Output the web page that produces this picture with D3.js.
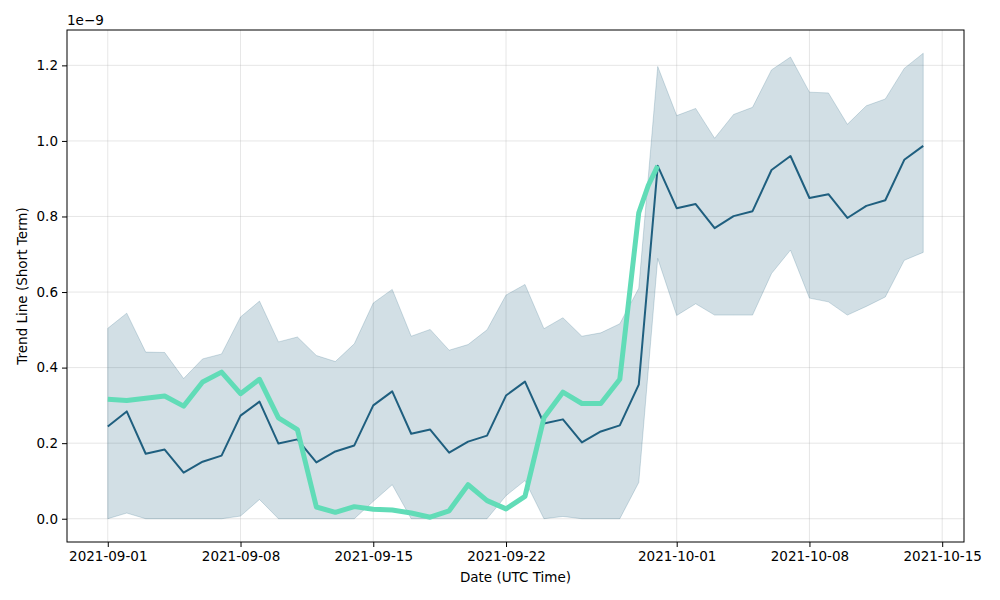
<!DOCTYPE html>
<html>
<head>
<meta charset="utf-8">
<script src="https://cdn.jsdelivr.net/npm/d3@7"></script>
<style>
  body { margin: 0; background: #fff; }
  text { font-family: "DejaVu Sans", sans-serif; }
</style>
</head>
<body>
<svg id="chart" width="1000" height="600"></svg>
<script>
// daily values, 2021-09-01 .. 2021-10-14 (units of 1e-9)
const startDate = "2021-09-01";
const meanValues = [
  0.244, 0.284, 0.172, 0.183, 0.122, 0.151, 0.167, 0.273, 0.310, 0.199,
  0.210, 0.149, 0.178, 0.194, 0.300, 0.337, 0.225, 0.236, 0.175, 0.204,
  0.220, 0.326, 0.363, 0.252, 0.263, 0.202, 0.231, 0.247, 0.355, 0.934,
  0.822, 0.833, 0.769, 0.801, 0.814, 0.923, 0.960, 0.849, 0.859, 0.796,
  0.828, 0.843, 0.950, 0.987
];
const upperValues = [
  0.504, 0.544, 0.441, 0.440, 0.371, 0.423, 0.436, 0.534, 0.576, 0.468,
  0.481, 0.432, 0.416, 0.463, 0.571, 0.607, 0.483, 0.501, 0.446, 0.461,
  0.500, 0.592, 0.620, 0.503, 0.532, 0.483, 0.492, 0.516, 0.610, 1.197,
  1.067, 1.086, 1.007, 1.070, 1.089, 1.188, 1.222, 1.129, 1.127, 1.044,
  1.093, 1.111, 1.192, 1.232
];
const lowerValues = [
  0.000, 0.015, 0.000, 0.000, 0.000, 0.000, 0.000, 0.007, 0.051, 0.000,
  0.000, 0.000, 0.000, 0.000, 0.046, 0.090, 0.000, 0.000, 0.000, 0.000,
  0.000, 0.061, 0.101, 0.000, 0.006, 0.000, 0.000, 0.000, 0.096, 0.689,
  0.538, 0.569, 0.539, 0.539, 0.539, 0.649, 0.711, 0.584, 0.574, 0.539,
  0.562, 0.587, 0.684, 0.705
];
// short term trend, its own timestamps
const trendTimes = [
  "2021-09-01", "2021-09-02", "2021-09-03", "2021-09-04", "2021-09-05",
  "2021-09-06", "2021-09-07", "2021-09-08", "2021-09-09", "2021-09-10",
  "2021-09-11", "2021-09-12", "2021-09-13", "2021-09-14", "2021-09-15",
  "2021-09-16", "2021-09-17", "2021-09-18", "2021-09-19", "2021-09-20",
  "2021-09-21", "2021-09-22", "2021-09-23", "2021-09-24", "2021-09-25",
  "2021-09-26", "2021-09-27", "2021-09-28", "2021-09-29", "2021-09-29T12:00",
  "2021-09-30"
];
const trendValues = [
  0.316, 0.313, 0.319, 0.325, 0.298, 0.362, 0.388, 0.331, 0.369, 0.267,
  0.236, 0.031, 0.017, 0.032, 0.025, 0.023, 0.015, 0.004, 0.021, 0.090,
  0.048, 0.026, 0.059, 0.267, 0.335, 0.305, 0.305, 0.369, 0.810, 0.882,
  0.934
];
const xTicks = ["2021-09-01", "2021-09-08", "2021-09-15", "2021-09-22", "2021-10-01", "2021-10-08", "2021-10-15"];
const yTicks = [0, 0.2, 0.4, 0.6, 0.8, 1.0, 1.2];

const parse = s => new Date(s + (s.length > 10 ? ":00Z" : "T00:00:00Z"));
const start = parse(startDate);
const days = meanValues.map((v, i) => d3.utcDay.offset(start, i));
const band = days.map((d, i) => ({ date: d, mean: meanValues[i], lo: lowerValues[i], hi: upperValues[i] }));
const trend = trendTimes.map((t, i) => ({ date: parse(t), v: trendValues[i] }));

const margin = { top: 30, right: 36, bottom: 58, left: 67 };
const width = 1000 - margin.left - margin.right;
const height = 600 - margin.top - margin.bottom;
const fontSize = 13.5;

// matplotlib style 5% padding
const t0 = days[0], t1 = days[days.length - 1];
const pad = (t1 - t0) * 0.05;
const x = d3.scaleUtc()
  .domain([new Date(+t0 - pad), new Date(+t1 + pad)])
  .range([0, width]);

const yMax = d3.max(upperValues), yMin = 0;
const yPad = (yMax - yMin) * 0.05;
const y = d3.scaleLinear()
  .domain([yMin - yPad, yMax + yPad])
  .range([height, 0]);

const svg = d3.select("#chart");
const g = svg.append("g").attr("transform", `translate(${margin.left},${margin.top})`);

// grid
g.append("g")
  .selectAll("line")
  .data(xTicks.map(parse))
  .join("line")
  .attr("x1", d => x(d)).attr("x2", d => x(d))
  .attr("y1", 0).attr("y2", height)
  .attr("stroke", "#b0b0b0").attr("stroke-opacity", 0.4).attr("stroke-width", 0.8);
g.append("g")
  .selectAll("line")
  .data(yTicks)
  .join("line")
  .attr("x1", 0).attr("x2", width)
  .attr("y1", d => y(d)).attr("y2", d => y(d))
  .attr("stroke", "#b0b0b0").attr("stroke-opacity", 0.4).attr("stroke-width", 0.8);

const dark = "#1f5f7f";

const area = d3.area()
  .x(d => x(d.date))
  .y0(d => y(d.lo))
  .y1(d => y(d.hi));

g.append("path")
  .datum(band)
  .attr("d", area)
  .attr("fill", dark).attr("fill-opacity", 0.2)
  .attr("stroke", dark).attr("stroke-opacity", 0.2).attr("stroke-width", 1);

g.append("path")
  .datum(band)
  .attr("fill", "none")
  .attr("stroke", dark)
  .attr("stroke-width", 2)
  .attr("stroke-linejoin", "round")
  .attr("d", d3.line().x(d => x(d.date)).y(d => y(d.mean)));

g.append("path")
  .datum(trend)
  .attr("fill", "none")
  .attr("stroke", "#61dcb7")
  .attr("stroke-width", 5)
  .attr("stroke-linejoin", "round")
  .attr("d", d3.line().x(d => x(d.date)).y(d => y(d.v)));

// frame
g.append("rect")
  .attr("width", width).attr("height", height)
  .attr("fill", "none").attr("stroke", "#000").attr("stroke-width", 1);

// axes
const xAxis = g.append("g")
  .attr("transform", `translate(0,${height})`)
  .call(d3.axisBottom(x).tickValues(xTicks.map(parse)).tickFormat(d3.utcFormat("%Y-%m-%d")).tickSize(5).tickPadding(4));
const yAxis = g.append("g")
  .call(d3.axisLeft(y).tickValues(yTicks).tickFormat(d3.format(".1f")).tickSize(5).tickPadding(4));
[xAxis, yAxis].forEach(a => {
  a.select(".domain").remove();
  a.selectAll("text").attr("font-size", fontSize).attr("fill", "#000").attr("font-family", "DejaVu Sans, sans-serif");
  a.selectAll("line").attr("stroke", "#000");
});

g.append("text")
  .attr("x", 0).attr("y", -5)
  .attr("font-size", fontSize)
  .text("1e\u22129");

g.append("text")
  .attr("x", width / 2).attr("y", height + 40)
  .attr("text-anchor", "middle")
  .attr("font-size", fontSize)
  .text("Date (UTC Time)");

g.append("text")
  .attr("transform", `translate(${-40},${height / 2}) rotate(-90)`)
  .attr("text-anchor", "middle")
  .attr("font-size", fontSize)
  .text("Trend Line (Short Term)");
</script>
</body>
</html>
